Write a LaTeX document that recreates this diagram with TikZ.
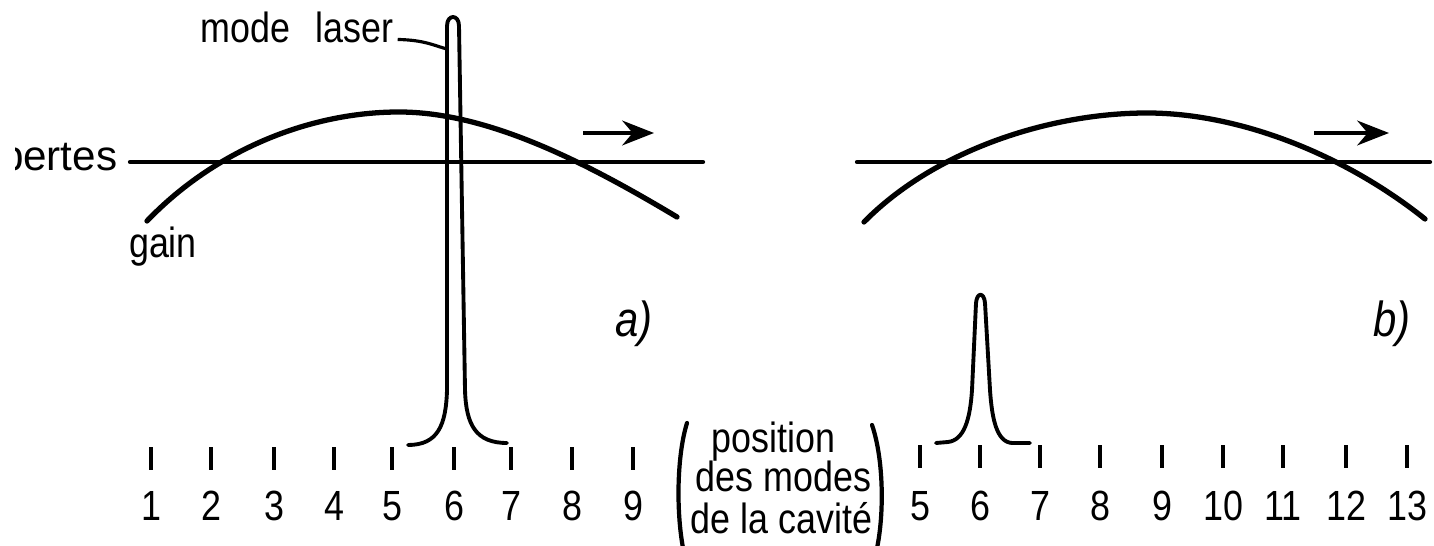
\documentclass[tikz,border=0pt]{standalone}
\usepackage{fontspec}
\setmainfont{Liberation Sans}[FakeStretch=0.85]
\newfontfamily\widefont{Liberation Sans}
\usetikzlibrary{arrows.meta}
\begin{document}
\begin{tikzpicture}[x=0.01cm,y=-0.01cm,
  curve/.style={line width=1.5pt, line cap=round},
  baseline line/.style={line width=1.2pt, line cap=round},
  peak/.style={line width=1.1pt, line cap=round, line join=round},
  paren/.style={line width=1.2pt, line cap=round},
  tickmark/.style={line width=1pt},
  lbl/.style={font=\fontsize{12}{12}\selectfont, inner sep=0pt},
  num/.style={font=\fontsize{12}{12}\selectfont, inner sep=0pt, anchor=base},
  tag/.style={font=\itshape\fontsize{14}{14}\selectfont, inner sep=0pt, anchor=base},
  shiftarrow/.style={line width=1.3pt, -{Stealth[length=9pt,width=7pt]}}]
\clip (0,0) rectangle (1434,546);
\fill[white] (0,0) rectangle (1434,546);

% ---------- panel a ----------
\begin{scope}
  \clip (15,120) rectangle (126,200);
  \node[lbl, anchor=base east] (pertes) at (118,171) {\widefont pertes};
\end{scope}
\coordinate (pa1) at (130,162);
\coordinate (pa2) at (703,162);
\draw[baseline line] (pa1) -- (pa2);
\coordinate (ga1) at (147,221);
\coordinate (ga2) at (399,112);
\coordinate (ga3) at (677,217);
\draw[curve] (ga1) .. controls (215,150) and (310,112) .. (ga2)
  .. controls (490,112) and (590,165) .. (ga3);
\node[lbl, anchor=base] (gain) at (163,258) {gain};
\coordinate (aa1) at (583,133);
\coordinate (aa2) at (654,133);
\draw[shiftarrow] (aa1) -- (aa2);
\node[tag] (taga) at (634,337) {a)};

% tall laser mode
\draw[peak] (408,445) .. controls (438,445) and (446,425) .. (447,390)
  -- (447,26) .. controls (447,14) and (459,14) .. (459,26)
  -- (465,390) .. controls (466,425) and (476,443) .. (507,443);
\node[lbl, anchor=base west] (ml) at (200,43) {mode\hspace{0.6em}laser};
\coordinate (mltip) at (447,49);
\draw[line width=0.9pt] ([xshift=1pt,yshift=1pt]ml.base east) .. controls (425,40) and (435,46) .. (mltip);

% ticks a
\foreach \n/\x in {1/151,2/211,3/274,4/334,5/392,6/454,7/511,8/572,9/633}{
  \coordinate (ta\n) at (\x,447);
  \draw[tickmark] (ta\n) -- ++(0,23);
  \node[num] (na\n) at (\x,520) {\n};
}

% ---------- middle label ----------
\node[lbl, anchor=base west] (pos) at (711,452) {position};
\node[lbl, anchor=base west] (des) at (695,491) {des modes};
\node[lbl, anchor=base west] (cav) at (690,533) {de la cavité};
\draw[paren] (687,423) .. controls (677,455) and (676,510) .. (683,548);
\draw[paren] (872,425) .. controls (884,460) and (884,515) .. (877,548);

% ---------- panel b ----------
\coordinate (pb1) at (857,162);
\coordinate (pb2) at (1430,162);
\draw[baseline line] (pb1) -- (pb2);
\coordinate (gb1) at (864,222);
\coordinate (gb2) at (1147,113);
\coordinate (gb3) at (1425,219);
\draw[curve] (gb1) .. controls (935,150) and (1050,113) .. (gb2)
  .. controls (1240,113) and (1345,155) .. (gb3);
\coordinate (ab1) at (1314,133);
\coordinate (ab2) at (1389,133);
\draw[shiftarrow] (ab1) -- (ab2);
\node[tag] (tagb) at (1392,337) {b)};

% small mode
\draw[peak] (936,443) -- (948,442) .. controls (964,440) and (970,420) .. (972,390)
  -- (976,303) .. controls (977,292) and (984,292) .. (985,303)
  -- (990,390) .. controls (992,420) and (997,442) .. (1012,443) -- (1030,443);

% ticks b
\foreach \n/\x in {5/920,6/980,7/1040,8/1100,9/1162,10/1223,11/1283,12/1346,13/1407}{
  \coordinate (tb\n) at (\x,445);
  \draw[tickmark] (tb\n) -- ++(0,23);
  \node[num] (nb\n) at (\x,520) {\n};
}
\end{tikzpicture}
\end{document}
